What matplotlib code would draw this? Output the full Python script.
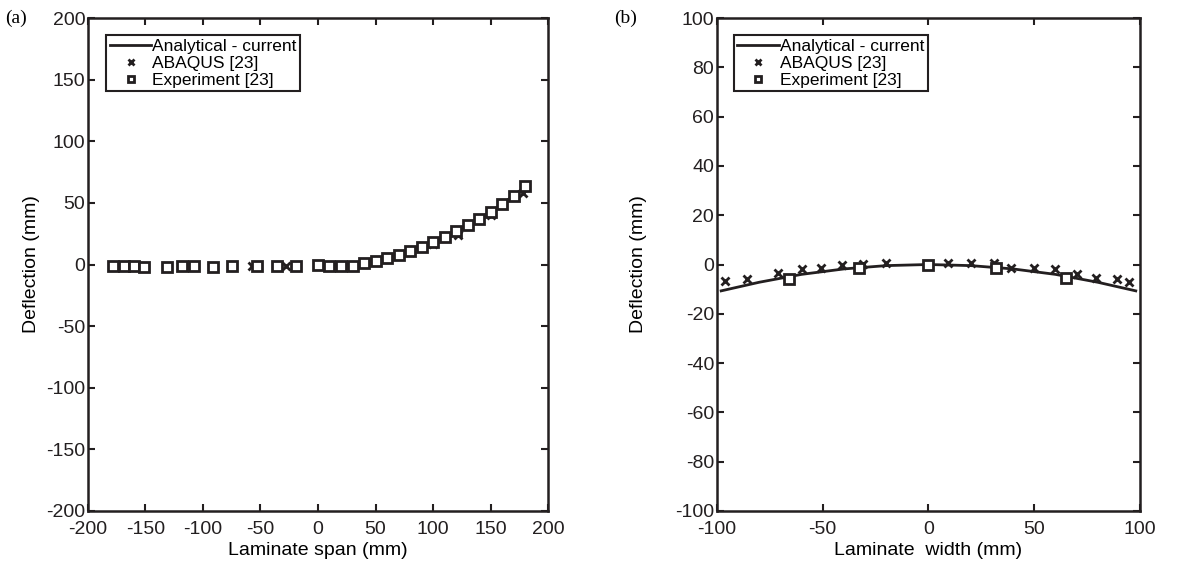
import numpy as np
import matplotlib.pyplot as plt

plt.rcParams['font.family'] = ['Liberation Sans', 'DejaVu Sans']
plt.rcParams['font.size'] = 14
plt.rcParams['axes.unicode_minus'] = False

INK = '#231f20'

# === (a) LAMINATE SPAN ===
span_line_x = [0, 10, 20, 30, 40, 50, 60, 70, 80, 90, 100, 110, 120, 130, 140, 150, 160, 170, 180, 183]
span_line_y = [0, 0, 0.3, 1, 2, 3.5, 5.5, 8, 11, 14, 18, 22, 27, 32, 37, 43, 49, 56, 63, 65]

span_abq_x = [-160, -151, -119, -92, -57, -28, 0, 20, 40, 60, 80, 100, 122, 150, 178]
span_abq_y = [-1.5, -2, -1.5, -2, -1.5, -1, 0, -1, 1, 5, 10, 17, 24, 40, 58]

span_exp_x = [-178, -169, -160, -151, -131, -118, -108, -91, -75, -53, -36, -19,
              0, 10, 20, 30, 40, 50, 60, 70, 80, 90, 100, 110, 120, 130, 140, 150, 160, 170, 180]
span_exp_y = [-1, -1, -1.5, -2, -2, -1.5, -1.5, -2, -1.5, -1.5, -1, -1,
              -0.5, -1, -1, -1, 1, 3, 5, 8, 11, 14, 18, 22, 27, 32, 37, 43, 49, 56, 64]

# === (b) LAMINATE WIDTH ===
width_line_x = [-98, -80, -60, -40, -20, 0, 20, 40, 60, 80, 98]
width_line_y = [-10.7, -7.2, -4.0, -1.8, -0.45, 0, -0.45, -1.8, -4.0, -7.2, -10.7]

width_abq_x = [-96, -86, -71, -60, -51, -41, -31, -20, 9, 20, 31, 39, 50, 60, 70, 79, 89, 95]
width_abq_y = [-6.5, -5.7, -3.3, -2, -1.6, -0.4, 0.4, 0.8, 0.8, 0.8, 0.6, -1.6, -1.6, -2, -3.7, -5.3, -5.7, -6.9]

width_exp_x = [-66, -33, 0, 32, 65]
width_exp_y = [-5.7, -1.6, -0.3, -1.6, -5.3]

fig = plt.figure(figsize=(11.87, 5.67), dpi=100)
ax1 = fig.add_axes([0.0741, 0.099, 0.3876, 0.869])
ax2 = fig.add_axes([0.6040, 0.099, 0.3564, 0.869])


def draw(ax, lx, ly, ax_, ay_, ex, ey, ypad):
    ax.plot(lx, ly, color=INK, lw=2, label='Analytical - current', zorder=2)
    ax.plot(ax_, ay_, ls='none', marker='x', ms=6, mew=2, color=INK,
            label='ABAQUS [23]', zorder=3)
    ax.plot(ex, ey, ls='none', marker='s', ms=6.5, mew=2, mfc='white', mec=INK,
            label='Experiment [23]', zorder=3)
    ax.tick_params(direction='in', top=True, right=True, length=5, width=1.5,
                   labelsize=14, pad=2, colors=INK)
    ax.tick_params(axis='x', pad=7)
    for s in ax.spines.values():
        s.set_linewidth(1.8)
        s.set_color(INK)
    ax.set_ylabel('Deflection (mm)', fontsize=14, labelpad=ypad)
    leg = ax.legend(loc='upper left', bbox_to_anchor=(0.04, 0.965), fancybox=False,
                    edgecolor=INK, framealpha=1, fontsize=12.5, handlelength=2.4,
                    handletextpad=0.05, labelspacing=0.1, borderpad=0.2,
                    borderaxespad=0, markerscale=0.75)
    leg.get_frame().set_linewidth(1.5)


draw(ax1, span_line_x, span_line_y, span_abq_x, span_abq_y, span_exp_x, span_exp_y, 4)
ax1.set_xlim(-200, 200)
ax1.set_ylim(-200, 200)
ax1.set_xticks(np.arange(-200, 201, 50))
ax1.set_yticks(np.arange(-200, 201, 50))
ax1.set_xlabel('Laminate span (mm)', fontsize=14, labelpad=3)

draw(ax2, width_line_x, width_line_y, width_abq_x, width_abq_y, width_exp_x, width_exp_y, 20)
ax2.set_xlim(-100, 100)
ax2.set_ylim(-100, 100)
ax2.set_xticks(np.arange(-100, 101, 50))
ax2.set_yticks(np.arange(-100, 101, 20))
ax2.set_xlabel('Laminate  width (mm)', fontsize=14, labelpad=3)

fig.text(0.004, 0.968, '(a)', family='Liberation Serif', fontsize=14, va='center')
fig.text(0.517, 0.968, '(b)', family='Liberation Serif', fontsize=14, va='center')

fig.savefig('out.png', dpi=100)
